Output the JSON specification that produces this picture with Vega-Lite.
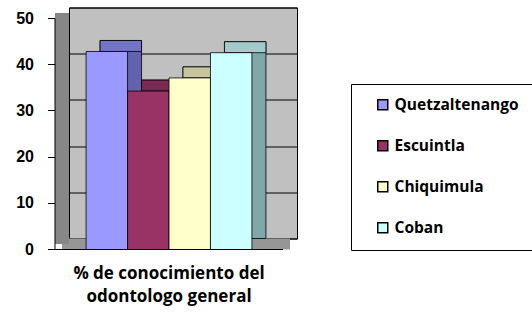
{
  "$schema": "https://vega.github.io/schema/vega-lite/v6.json",
  "width": 228,
  "height": 231,
  "autosize": "none",
  "padding": {"left": 69, "top": 7.5, "right": 235, "bottom": 74.5},
  "background": "white",
  "config": {
    "view": {"fill": "#c0c0c0", "stroke": "#000", "strokeWidth": 1}
  },
  "data": {
    "values": [
      {"serie": "Quetzaltenango", "valor": 42.86},
      {"serie": "Escuintla", "valor": 34.29},
      {"serie": "Chiquimula", "valor": 37.14},
      {"serie": "Coban", "valor": 42.6}
    ]
  },
  "resolve": {
    "scale": {"fill": "independent"},
    "axis": {"x": "independent", "y": "independent"}
  },
  "layer": [
    {
      "mark": {"type": "bar", "stroke": "#000", "strokeWidth": 0.8},
      "encoding": {
        "x": {
          "field": "serie", "type": "nominal", "sort": null,
          "scale": {"paddingInner": 0, "paddingOuter": 0.75},
          "axis": {"orient": "bottom", "domain": true, "domainColor": "#969696", "domainWidth": 11, "ticks": false, "labels": false, "grid": false, "title": null, "offset": 12.5, "translate": -7, "zindex": 0}
        },
        "y": {
          "field": "valor", "type": "quantitative",
          "scale": {"domain": [0, 50]},
          "axis": {"orient": "left", "domain": true, "domainColor": "#878787", "domainWidth": 14, "ticks": false, "labels": false, "grid": false, "title": null, "offset": 12.5, "translate": 5.5, "zindex": 0}
        },
        "fill": {
          "field": "serie", "type": "nominal", "sort": null,
          "scale": {"domain": ["Quetzaltenango", "Escuintla", "Chiquimula", "Coban"], "range": ["#6262ad", "#742749", "#b3b38f", "#80a8a8"]},
          "legend": null
        }
      }
    },
    {
      "mark": {"type": "bar", "stroke": "#000", "strokeWidth": 0.8, "y2Offset": 11},
      "encoding": {
        "x": {"field": "serie", "type": "nominal", "sort": null, "axis": null},
        "y": {
          "field": "valor", "type": "quantitative",
          "axis": {"orient": "left", "values": [0, 10, 20, 30, 40, 50], "grid": true, "gridColor": "#000", "gridWidth": 1, "domain": false, "ticks": false, "labels": false, "title": null, "zindex": 0}
        },
        "y2": {"field": "valor"},
        "fill": {
          "field": "serie", "type": "nominal", "sort": null,
          "scale": {"domain": ["Quetzaltenango", "Escuintla", "Chiquimula", "Coban"], "range": ["#7474c6", "#7a2952", "#c6c69e", "#a3caca"]},
          "legend": null
        }
      }
    },
    {
      "mark": {"type": "bar", "stroke": "#000", "strokeWidth": 0.8, "xOffset": -14, "yOffset": 11, "y2Offset": 11},
      "encoding": {
        "x": {
          "field": "serie", "type": "nominal", "sort": null,
          "axis": {"orient": "bottom", "domain": true, "domainColor": "#000", "domainWidth": 1, "ticks": false, "labels": false, "grid": false, "offset": 25, "translate": -14, "zindex": 1,
            "title": ["% de conocimiento del", "odontologo general"], "titleFont": "Open Sans", "titleFontSize": 17, "titleFontWeight": "bold", "titleColor": "#000", "titlePadding": 16, "titleLineHeight": 23}
        },
        "y": {
          "field": "valor", "type": "quantitative",
          "axis": {"orient": "left", "values": [0, 10, 20, 30, 40, 50], "domain": true, "domainColor": "#000", "domainWidth": 1, "ticks": true, "tickColor": "#000", "tickSize": 7, "labels": true, "labelFont": "Liberation Sans", "labelFontWeight": "bold", "labelFontSize": 16, "labelColor": "#000", "labelPadding": 14, "grid": false, "title": null, "offset": 25, "translate": 11, "zindex": 1}
        },
        "color": {
          "field": "serie", "type": "nominal", "sort": null,
          "scale": {"domain": ["Quetzaltenango", "Escuintla", "Chiquimula", "Coban"], "range": ["#9999ff", "#993366", "#ffffcc", "#ccffff"]},
          "legend": {"orient": "none", "legendX": 282, "legendY": 76.5, "title": null, "padding": 13, "strokeColor": "#000", "symbolType": "square", "symbolSize": 100, "symbolStrokeColor": "#000", "symbolStrokeWidth": 1.5, "symbolOffset": 11, "labelFont": "Open Sans", "labelFontSize": 15.5, "labelFontWeight": "bold", "labelColor": "#000", "rowPadding": 23, "labelOffset": 4}
        }
      }
    }
  ]
}
